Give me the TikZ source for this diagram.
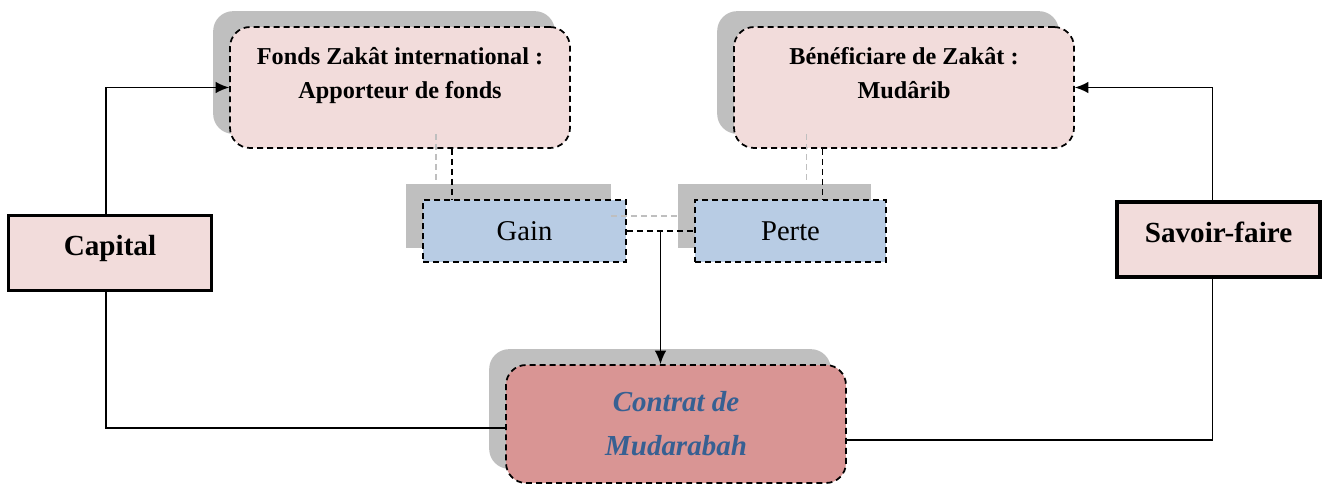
\documentclass[tikz,border=0pt]{standalone}
\usepackage{fontspec}
\setmainfont{Liberation Serif}
\usetikzlibrary{positioning, arrows, arrows.meta, calc, backgrounds}

\definecolor{rosebox}{HTML}{F2DCDB}
\definecolor{bluebox}{HTML}{B8CCE4}
\definecolor{redbox}{HTML}{D99594}
\definecolor{shadowgray}{HTML}{BFBFBF}
\definecolor{titleblue}{HTML}{376092}

\tikzset{
    boxline/.style={draw=black, line width=1pt, dash pattern=on 3.4pt off 2.3pt},
    party/.style={boxline, fill=rosebox, rounded corners=0.4cm,
        minimum width=6.8cm, minimum height=2.42cm, align=center,
        font=\fontsize{13.8}{19}\selectfont\bfseries},
    result/.style={boxline, fill=bluebox, minimum width=4.06cm,
        minimum height=1.24cm, font=\fontsize{16.3}{19}\selectfont},
    input/.style={draw=black, line width=2pt, fill=rosebox,
        minimum width=4.06cm, minimum height=1.5cm, text depth=0.3cm,
        font=\fontsize{16.6}{20}\selectfont\bfseries},
    contract/.style={boxline, fill=redbox, rounded corners=0.4cm,
        minimum width=6.8cm, minimum height=2.36cm, align=center,
        text=titleblue, font=\fontsize{16.5}{25}\selectfont\bfseries\itshape},
    link/.style={line width=1pt, dash pattern=on 3.4pt off 2.3pt},
}

\begin{document}
\begin{tikzpicture}[x=0.02cm, y=-0.02cm, >={Latex[length=0.27cm, width=0.23cm]}, line width=0.8pt]
    \useasboundingbox (0,0) rectangle (1323,484);

    % boxes
    \node[party] (fonds) at (400,87.5) {Fonds Zakât international :\\Apporteur de fonds\\[-0.28cm]\strut};
    \node[party] (benef) at (904,87.5) {Bénéficiare de Zakât :\\Mudârib\\[-0.28cm]\strut};
    \node[result] (gain) at (524.5,231) {Gain};
    \node[result, minimum width=3.82cm] (perte) at (790.5,231) {Perte};
    \node[input] (capital) at (110,253) {Capital};
    \node[input] (savoir) at (1218.5,239.5) {Savoir-faire};
    \node[contract] (contrat) at (676,424) {Contrat de\\Mudarabah};

    % shadows
    \begin{scope}[on background layer]
        \foreach \nd/\r in {fonds/0.4cm, benef/0.4cm, contrat/0.4cm, gain/0pt, perte/0pt}
        {
            \fill[shadowgray, rounded corners=\r]
                ([shift={(-0.32cm,0.3cm)}]\nd.south west) rectangle ([shift={(-0.32cm,0.3cm)}]\nd.north east);
        }
    \end{scope}

    \coordinate (gaintop) at ([xshift=0.6cm]gain.north west);
    \coordinate (fondsfoot) at (gaintop |- fonds.south);
    \coordinate (pertetop) at ([xshift=0.64cm]perte.north);
    \coordinate (beneffoot) at (pertetop |- benef.south);
    \coordinate (gainmid) at ($(gain.east)!0.5!(perte.west)$);
    \coordinate (capitaltop) at ([xshift=-0.08cm]capital.north);
    \coordinate (capitalfoot) at ([xshift=-0.08cm]capital.south);
    \coordinate (savoirtop) at ([xshift=-0.12cm]savoir.north);
    \coordinate (savoirfoot) at ([xshift=-0.12cm]savoir.south);

    % dashed links, shadow copy first
    \foreach \col/\dx/\dy in {shadowgray/-0.32cm/0.3cm, black/0cm/0cm}
    {
        \draw[link, draw=\col] ([shift={(\dx,\dy)}]fondsfoot) -- ([shift={(\dx,\dy)}]gaintop);
        \draw[link, draw=\col] ([shift={(\dx,\dy)}]beneffoot) -- ([shift={(\dx,\dy)}]pertetop);
        \draw[link, draw=\col] ([shift={(\dx,\dy)}]gain.east) -- ([shift={(\dx,\dy)}]perte.west);
    }

    % connectors
    \draw[->] (gainmid) -- (gainmid |- contrat.north);
    \draw[->] (capitaltop) |- (fonds.west);
    \draw (capitalfoot) |- ([yshift=-0.08cm]contrat.west);
    \draw[->] (savoirtop) |- (benef.east);
    \draw (savoirfoot) |- ([yshift=-0.32cm]contrat.east);
\end{tikzpicture}
\end{document}
